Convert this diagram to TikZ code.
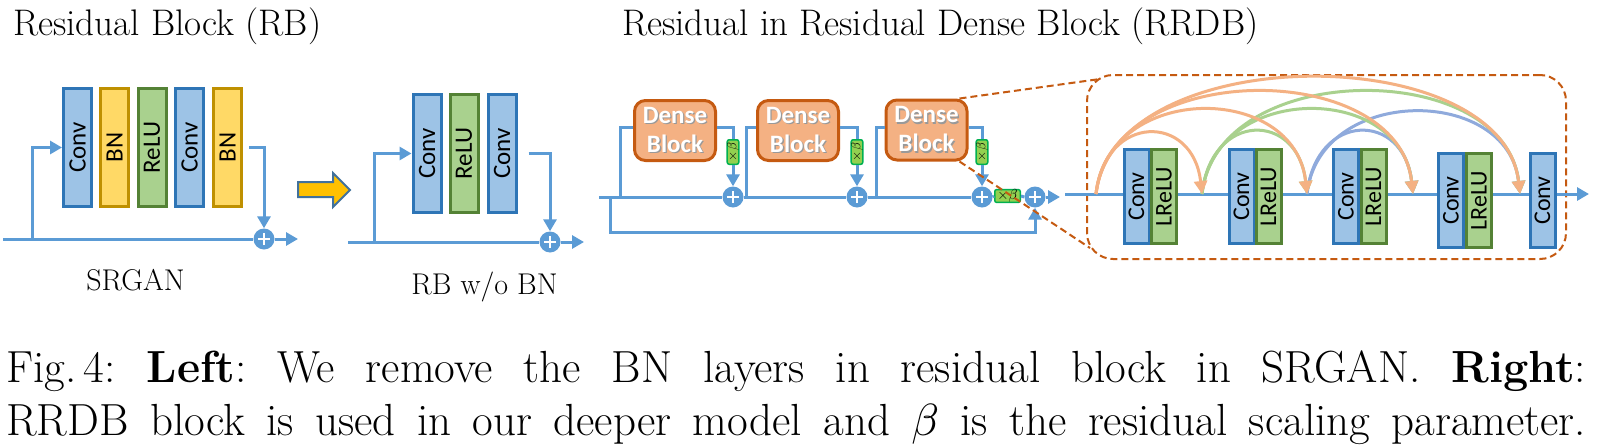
\documentclass[tikz,border=0pt]{standalone}
\usepackage{fontspec}
\usepackage{graphicx}
\usetikzlibrary{arrows.meta,calc}
\newfontfamily\calib{Carlito}
\definecolor{lineblue}{HTML}{5B9BD5}
\definecolor{convfill}{HTML}{9DC3E6}
\definecolor{convdraw}{HTML}{2E75B6}
\definecolor{bnfill}{HTML}{FFD966}
\definecolor{bndraw}{HTML}{BF9000}
\definecolor{relufill}{HTML}{A9D18E}
\definecolor{reludraw}{HTML}{548235}
\definecolor{dbfill}{HTML}{F4B183}
\definecolor{dbdraw}{HTML}{C55A11}
\definecolor{betafill}{HTML}{92D050}
\definecolor{betadraw}{HTML}{00B050}
\definecolor{arcorange}{HTML}{F4B183}
\definecolor{arcgreen}{HTML}{A9D18E}
\definecolor{arcblue}{HTML}{8FAADC}
\definecolor{yel}{HTML}{FFC000}
\definecolor{yelborder}{HTML}{41719C}
\newcommand\shtxt[1]{\rlap{\hspace{1.3pt}\raisebox{-1.3pt}{\textcolor{black!40}{#1}}}#1}
\newcommand\sbeta[1]{\scalebox{#1}{\fontsize{10}{12}\selectfont$\beta$}}
\newcommand\sxbeta[1]{\scalebox{#1}{\fontsize{10}{12}\selectfont$\times\beta$}}
\tikzset{
 ln/.style={draw=lineblue,line width=3pt},
 arr/.style={ln,-{Triangle[length=12pt,width=13pt]}},
 blk/.style={rectangle,line width=3pt,inner sep=0pt,minimum width=28pt,minimum height=118pt,font=\calib\fontsize{25}{30}\selectfont},
 convb/.style={blk,draw=convdraw,fill=convfill},
 bnb/.style={blk,draw=bndraw,fill=bnfill},
 relub/.style={blk,draw=reludraw,fill=relufill},
 sblk/.style={rectangle,line width=3pt,inner sep=0pt,minimum width=25pt,minimum height=94pt,font=\calib\fontsize{24}{28}\selectfont},
 sconv/.style={sblk,draw=convdraw,fill=convfill},
 slrelu/.style={sblk,draw=reludraw,fill=relufill},
 plus/.style={circle,fill=lineblue,minimum size=21pt,inner sep=0pt,
   path picture={\draw[white,line width=2.2pt]
     ([xshift=-6pt]path picture bounding box.center) -- ([xshift=6pt]path picture bounding box.center)
     ([yshift=-6pt]path picture bounding box.center) -- ([yshift=6pt]path picture bounding box.center);}},
 dense/.style={rectangle,rounded corners=11pt,draw=dbdraw,fill=dbfill,line width=3pt,minimum width=81pt,minimum height=60pt,inner sep=0pt,align=center,text=white,font=\calib\bfseries\fontsize{25}{29}\selectfont},
 betav/.style={rectangle,rounded corners=2pt,draw=betadraw,fill=betafill,line width=1.5pt,minimum width=11.5pt,minimum height=24.5pt,inner sep=0pt},
 betah/.style={rectangle,rounded corners=2pt,draw=betadraw,fill=betafill,line width=1.5pt,minimum width=25.5pt,minimum height=12.5pt,inner sep=0pt},
 arcln/.style={line width=3pt,-{Triangle[length=13pt,width=13pt]}},
 dsh/.style={draw=dbdraw,line width=2pt,dash pattern=on 7pt off 4pt},
 ttl/.style={anchor=base west,inner sep=0pt,font=\fontsize{37}{44}\selectfont},
 lbl/.style={anchor=base,inner sep=0pt,font=\fontsize{30}{36}\selectfont},
 capt/.style={anchor=base west,inner sep=0pt,font=\fontsize{45}{53}\selectfont\frenchspacing},
}
\begin{document}
\begin{tikzpicture}[x=1pt,y=-1pt]
\useasboundingbox (0,0) rectangle (1601,447);
\fill[white] (0,0) rectangle (1601,447);

% titles
\node[ttl] (t1) at (13,35) {Residual Block (RB)};
\node[ttl] (t2) at (622,35) {Residual in Residual Dense Block (RRDB)};

% ---------- SRGAN residual block ----------
\node[convb] (a1) at (77.5,147.5) {\rotatebox{90}{Conv}};
\node[bnb]   (a2) at (114.5,147.5) {\rotatebox{90}{BN}};
\node[relub] (a3) at (152,147.5) {\rotatebox{90}{ReLU}};
\node[convb] (a4) at (189.5,147.5) {\rotatebox{90}{Conv}};
\node[bnb]   (a5) at (227.5,147.5) {\rotatebox{90}{BN}};
\node[plus]  (pa) at (264,239) {};
\coordinate (a0) at (3,239);
\coordinate (asp) at (32,239);
\coordinate (aend) at (298,239);
\draw[ln] (a0) -- (pa.west);
\draw[arr] (pa.east) -- (aend);
\draw[arr] (asp) |- (a1.west);
\draw[arr] ([xshift=6pt]a5.east) -| (pa.north);
\node[lbl] (l1) at (135.5,290) {SRGAN};

% yellow arrow
\draw[draw=yelborder,fill=yel,line width=2pt,line join=miter]
  (298,182) -- (333,182) -- (333,173) -- (350,190) -- (333,207) -- (333,197) -- (298,197) -- cycle;

% ---------- RB w/o BN ----------
\node[convb] (b1) at (427,153.5) {\rotatebox{90}{Conv}};
\node[relub] (b2) at (464,153.5) {\rotatebox{90}{ReLU}};
\node[convb] (b3) at (502,153.5) {\rotatebox{90}{Conv}};
\node[plus]  (pb) at (550,242) {};
\coordinate (b0) at (348,242);
\coordinate (bsp) at (374,242);
\coordinate (bend) at (584,242);
\draw[ln] (b0) -- (pb.west);
\draw[arr] (pb.east) -- (bend);
\draw[arr] (bsp) |- (b1.west);
\draw[arr] ([xshift=11pt]b3.east) -| (pb.north);
\node[lbl] (l2) at (484.5,294) {RB w/o BN};

% ---------- RRDB chain ----------
\node[dense] (D1) at (675,130.5) {\shtxt{Dense}\\\shtxt{Block}};
\node[dense] (D2) at (798,130.5) {\shtxt{Dense}\\\shtxt{Block}};
\node[dense] (D3) at (926.5,130) {\shtxt{Dense}\\\shtxt{Block}};
\node[betav] (v1) at (733,152) {\rotatebox{90}{\sxbeta{1.3}}};
\node[betav] (v2) at (857,152) {\rotatebox{90}{\sxbeta{1.3}}};
\node[betav] (v3) at (982,152) {\rotatebox{90}{\sxbeta{1.3}}};
\node[plus] (q1) at (733,197) {};
\node[plus] (q2) at (857,197) {};
\node[plus] (q3) at (982,197) {};
\node[betah] (vh) at (1007.5,196) {\sxbeta{1.45}};
\node[plus] (q4) at (1035,197) {};
\coordinate (d0) at (599,197);
\coordinate (so) at (610,197);
\coordinate (sob) at (610,232);
\coordinate (s1) at (620,197);
\coordinate (s2) at (746,197);
\coordinate (s3) at (876,197);
\coordinate (dend) at (1060,197);
\draw[ln] (d0) -- (q1.west);
\draw[ln] (q1.east) -- (q2.west);
\draw[ln] (q2.east) -- (q3.west);
\draw[ln] (q3.east) -- (vh.west);
\draw[ln] (vh.east) -- (q4.west);
\draw[arr] (q4.east) -- (dend);
\draw[ln] (s1) |- ([yshift=3.5pt]D1.west);
\draw[ln] (s2) |- ([yshift=3.5pt]D2.west);
\draw[ln] (s3) |- ([yshift=3pt]D3.west);
\draw[ln] ([yshift=3.5pt]D1.east) -| (v1.north);
\draw[ln] ([yshift=3.5pt]D2.east) -| (v2.north);
\draw[ln] ([yshift=3pt]D3.east) -| (v3.north);
\draw[arr] (v1.south) -- (q1.north);
\draw[arr] (v2.south) -- (q2.north);
\draw[arr] (v3.south) -- (q3.north);
\draw[arr] (so) -- (sob) -| (q4.south);

% ---------- RRDB detail ----------
\node[draw=dbdraw,line width=2pt,dash pattern=on 7pt off 4pt,rounded corners=26pt,
      minimum width=479pt,minimum height=184pt,inner sep=0pt] (rr) at (1326.5,167) {};
\draw[dsh] ([xshift=-9pt]D3.north east) -- ([xshift=14pt,yshift=-5pt]rr.north west);
\draw[dsh] ([xshift=-9pt]D3.south east) -- ([xshift=4pt,yshift=12pt]rr.south west);

\node[sconv]  (k1) at (1136.5,196.5) {\rotatebox{90}{Conv}};
\node[slrelu] (m1) at (1164,196.5) {\rotatebox{90}{LReLU}};
\node[sconv]  (k2) at (1241.5,196.5) {\rotatebox{90}{Conv}};
\node[slrelu] (m2) at (1268.5,196.5) {\rotatebox{90}{LReLU}};
\node[sconv]  (k3) at (1346,196.5) {\rotatebox{90}{Conv}};
\node[slrelu] (m3) at (1373.5,196.5) {\rotatebox{90}{LReLU}};
\node[sconv]  (k4) at (1451,200.5) {\rotatebox{90}{Conv}};
\node[slrelu] (m4) at (1479,200.5) {\rotatebox{90}{LReLU}};
\node[sconv]  (k5) at (1542.5,200.5) {\rotatebox{90}{Conv}};
\coordinate (r0) at (1065,194);
\coordinate (rend) at (1589,194);
\coordinate (P0) at (1096,194);
\coordinate (P1) at (1202,194);
\coordinate (P2) at (1307,194);
\coordinate (P3) at (1413,194);
\coordinate (P4) at (1520,194);
\draw[ln] (r0) -- (k1.west |- r0);
\draw[ln] (m1.east |- r0) -- (k2.west |- r0);
\draw[ln] (m2.east |- r0) -- (k3.west |- r0);
\draw[ln] (m3.east |- r0) -- (k4.west |- r0);
\draw[ln] (m4.east |- r0) -- (k5.west |- r0);
\draw[arr] (k5.east |- r0) -- (rend);

% dense arcs
\draw[arcln,arcblue] (P2) .. controls ($(P2)+(9,-83)$) and ($(P3)+(-9,-83)$) .. (P3);
\draw[arcln,arcblue] (P2) .. controls ($(P2)+(12,-109)$) and ($(P4)+(-12,-109)$) .. (P4);
\draw[arcln,arcgreen] (P1) .. controls ($(P1)+(9,-83)$) and ($(P2)+(-9,-83)$) .. (P2);
\draw[arcln,arcgreen] (P1) .. controls ($(P1)+(12,-112)$) and ($(P3)+(-12,-112)$) .. (P3);
\draw[arcln,arcgreen] (P1) .. controls ($(P1)+(15,-136)$) and ($(P4)+(-15,-136)$) .. (P4);
\draw[arcln,arcorange] (P0) .. controls ($(P0)+(9,-81)$) and ($(P1)+(-9,-81)$) .. (P1);
\draw[arcln,arcorange] (P0) .. controls ($(P0)+(12,-112)$) and ($(P2)+(-12,-112)$) .. (P2);
\draw[arcln,arcorange] (P0) .. controls ($(P0)+(15,-136)$) and ($(P3)+(-15,-136)$) .. (P3);
\draw[arcln,arcorange] (P0) .. controls ($(P0)+(18,-155)$) and ($(P4)+(-18,-155)$) .. (P4);

% caption
\node[capt] (c1) at (6,382) {\makebox[1580pt][s]{Fig.\,4: \textbf{Left}: We remove the BN layers in residual block in SRGAN. \textbf{Right}:}};
\node[capt] (c2) at (6,435) {\makebox[1580pt][s]{RRDB block is used in our deeper model and \sbeta{4.5} is the residual scaling parameter.}};
\end{tikzpicture}
\end{document}
